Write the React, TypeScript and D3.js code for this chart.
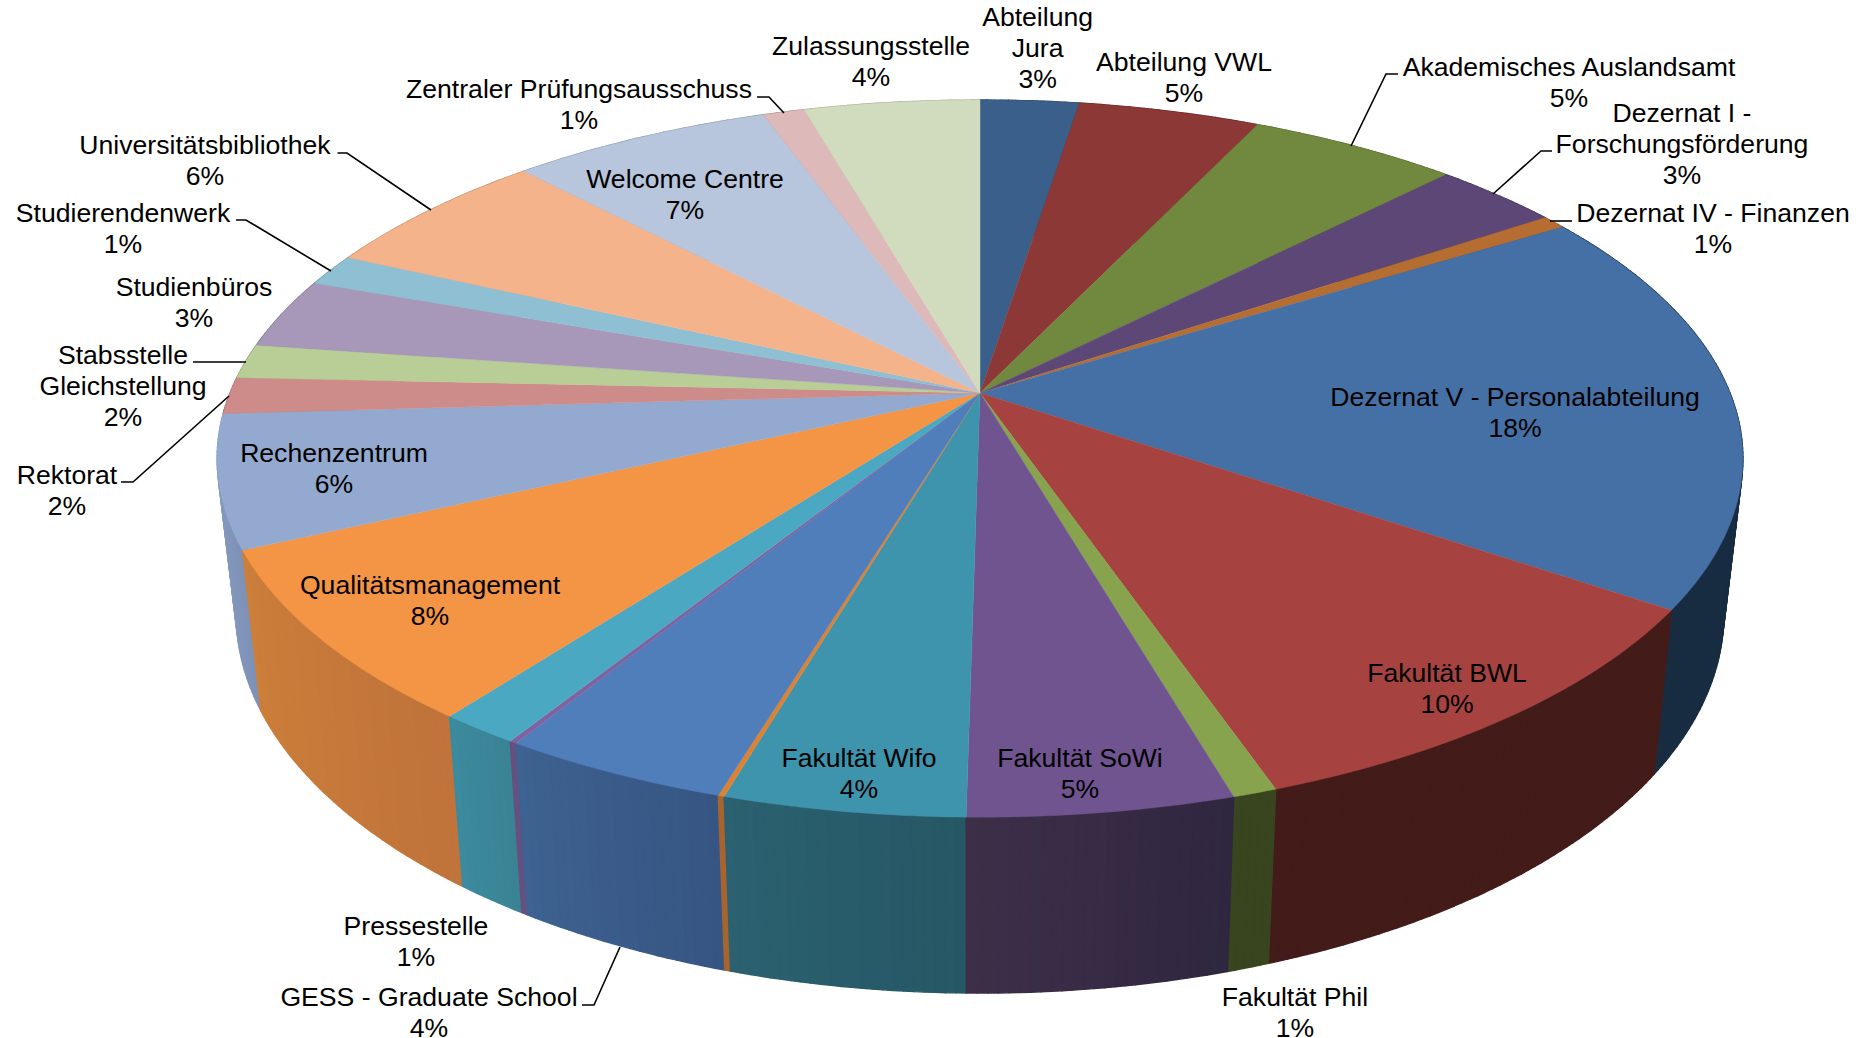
import React from "react";
import * as d3 from "d3";

const names = ["Abteilung Jura","Abteilung VWL","Akademisches Auslandsamt","Dezernat I - Forschungsförderung","Dezernat IV - Finanzen","Dezernat V - Personalabteilung","Fakultät BWL","Fakultät Phil","Fakultät SoWi","Fakultät Wifo","Fakultät Gesamt","GESS - Graduate School","Frauenbüro","Pressestelle","Qualitätsmanagement","Rechenzentrum","Rektorat","Stabsstelle Gleichstellung","Studienbüros","Studierendenwerk","Universitätsbibliothek","Welcome Centre","Zentraler Prüfungsausschuss","Zulassungsstelle"];
const shares = [2.5,4.6,5.3,3.2,0.62,18.3,10.22,0.79,4.74,4.3,0.11,4.1,0.13,1.45,7.8,5.95,1.65,1.55,3.2,1.45,6.0,6.6,1.05,4.45];
const topColors = ["#3A5F8A","#8C3836","#71893F","#5C4776","#B66D31","#4570A5","#A64340","#87A34D","#705490","#3E94AD","#DD8233","#4F7EBA","#7F63A1","#4BA8C3","#F49445","#93A9CF","#CD8C8A","#B9CD96","#A797B9","#8EBFD2","#F5B38C","#B7C5DD","#DDB9B9","#D1DBBD"];
const rimStart = ["#2A4666","#682A28","#55672F","#453558","#885125","#182C42","#431C1A","#38451F","#2F2640","#265765","#A8642E","#365582","#65507F","#3A8294","#C0733A","#7E91B7","#A06C6A","#90A074","#827590","#6E95A4","#BF8B6D","#8E99AC","#AC9090","#A3AB93"];
const rimEnd = ["#2A4666","#682A28","#55672F","#453558","#885125","#182C42","#431C1A","#38451F","#3E2F49","#2B6170","#A8642E","#3E6291","#65507F","#3C8A9E","#CC7F3A","#8EA3C8","#A06C6A","#90A074","#827590","#6E95A4","#BF8B6D","#8E99AC","#AC9090","#A3AB93"];

const labelLines = [["Abteilung","Jura","3%"],["Abteilung VWL","5%"],["Akademisches Auslandsamt","5%"],["Dezernat I -","Forschungsförderung","3%"],["Dezernat IV - Finanzen","1%"],["Dezernat V - Personalabteilung","18%"],["Fakultät BWL","10%"],["Fakultät Phil","1%"],["Fakultät SoWi","5%"],["Fakultät Wifo","4%"],["GESS - Graduate School","4%"],["Pressestelle","1%"],["Qualitätsmanagement","8%"],["Rechenzentrum","6%"],["Rektorat","2%"],["Stabsstelle","Gleichstellung","2%"],["Studienbüros","3%"],["Studierendenwerk","1%"],["Universitätsbibliothek","6%"],["Welcome Centre","7%"],["Zentraler Prüfungsausschuss","1%"],["Zulassungsstelle","4%"]];
// layout only: centre x and first line's centre y of each label
const labelX = [1037.6,1184,1569,1682,1713,1515,1447,1295,1080,859,429,416,430,334,67,123,194,123,205,685,579,871];
const labelY = [17,62,67,113,213,397,673,997,758,758,997,926,585,453,475,355,287,213,145,179,89,46];
const leaders = [
  [[757,97],[769,97],[784,113]],
  [[1398,74],[1386,74],[1351,146]],
  [[1552,151],[1541,151],[1493,194]],
  [[1572,221],[1550,221]],
  [[337.5,153],[347,153],[431,210]],
  [[236,220],[246,220],[331,271]],
  [[193,362],[246,362]],
  [[121,482],[133,482],[229,396]],
  [[582,1005],[594,1005],[620,947]],
];

const FONT_SIZE = 26.6;
const LINE_H = 31;

// perspective disc: two projected circles, top face and bottom face
const K = 0.183;
const topFace = { x: d3.scaleLinear().domain([-1, 1]).range([230, 1730]), y: d3.scaleLinear().domain([-1, 1]).range([46.4, 739.6]) };
const botFace = { x: d3.scaleLinear().domain([-1, 1]).range([248.75, 1711.25]), y: d3.scaleLinear().domain([-1, 1]).range([178, 911]) };
const project = (f: typeof topFace, a: number): [number, number] => {
  const w = 1 + K * Math.cos(a);
  return [f.x(Math.sin(a) / w), f.y(-Math.cos(a) / w)];
};

const pie = d3.pie<number>().sort(null).startAngle(0).endAngle(2 * Math.PI);
const arcs = pie(shares);
const line = d3.line();

export default function App() {
  const quads: { y: number; d: string; c: string }[] = [];
  arcs.forEach((a, i) => {
    const span = a.endAngle - a.startAngle;
    const n = Math.max(1, Math.ceil(span / 0.012));
    const col = d3.interpolateRgb(rimStart[i], rimEnd[i]);
    d3.range(n).forEach((j) => {
      const a0 = a.startAngle + (span * j) / n;
      const a1 = a.startAngle + (span * (j + 1)) / n;
      const p = [project(topFace, a0), project(topFace, a1), project(botFace, a1), project(botFace, a0)];
      quads.push({ y: p[0][1], d: line(p) + "Z", c: col((j + 0.5) / n) });
    });
  });
  quads.sort((p, q) => p.y - q.y);

  const apex = topFace.x(0);
  const apexY = topFace.y(0);
  return (
    <svg width={1868} height={1038} style={{ position: "absolute", left: 0, top: 0, display: "block", background: "#fff" }}>
      <g>
        {quads.map((q, i) => (
          <path key={i} d={q.d} fill={q.c} stroke={q.c} strokeWidth={1.4} strokeLinejoin="round" />
        ))}
      </g>
      <g>
        {arcs.map((a, i) => {
          const n = Math.max(2, Math.ceil((a.endAngle - a.startAngle) / 0.01));
          const pts = d3.range(n + 1).map((j) => project(topFace, a.startAngle + ((a.endAngle - a.startAngle) * j) / n));
          const d = line([[apex, apexY], ...pts]) + "Z";
          return <path key={names[i]} d={d} fill={topColors[i]} stroke={topColors[i]} strokeWidth={0.4} />;
        })}
      </g>
      <g fill="none" stroke="#000" strokeWidth={1.6}>
        {leaders.map((l, i) => (
          <path key={i} d={line(l as [number, number][]) as string} />
        ))}
      </g>
      <g fontFamily="'Liberation Sans', Arial, sans-serif" fontSize={FONT_SIZE} fill="#000" textAnchor="middle">
        {labelLines.map((ls, i) => (
          <text key={i}>
            {ls.map((t, j) => (
              <tspan key={j} x={labelX[i]} y={labelY[i] + j * LINE_H} dominantBaseline="central">
                {t}
              </tspan>
            ))}
          </text>
        ))}
      </g>
    </svg>
  );
}
